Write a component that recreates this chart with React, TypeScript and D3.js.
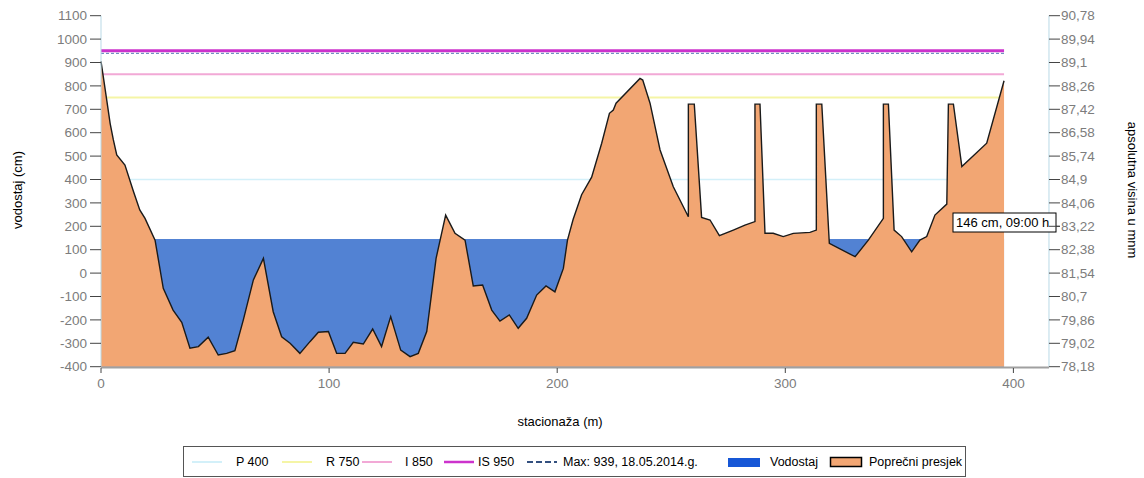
import React from 'react';
import * as d3 from 'd3';

// ---- data ----
const stations = [0, 1, 2.5, 4, 5.4, 6.9, 10.5, 14.2, 17, 19.3, 23.7, 27.3, 31.6, 35.4, 39, 42.7, 47, 51.4, 55.1, 58.7, 62.4, 66.8, 71.2, 75.5, 79.2, 82.9, 87.2, 91.6, 95.3, 99.7, 103.3, 107, 110.6, 115, 119.1, 123, 127, 131.4, 135.5, 139.1, 142.8, 146.9, 151.1, 155.2, 159.6, 163.2, 167.3, 171.3, 174.9, 179, 182.9, 186.6, 191, 195.1, 199, 202.7, 204.5, 207, 210.7, 215.1, 219.5, 222.9, 224.6, 225.8, 236.3, 237.5, 240.7, 245.1, 250.9, 257.5, 257.5, 260.1, 263.3, 267, 271.1, 277.2, 282.3, 286.7, 286.7, 288.9, 291.1, 294.7, 299.1, 303.5, 310.8, 313.6, 313.6, 316, 319.3, 330.6, 336.4, 343, 343, 345.2, 347.7, 351, 355.4, 359, 362, 365.6, 370.8, 371.5, 373.7, 377.4, 388.3, 395.9];
const elevations = [905, 840, 740, 640, 570, 505, 462, 350, 270, 234, 141, -65, -158, -210, -321, -314, -274, -350, -343, -332, -200, -29, 63, -165, -272, -300, -343, -293, -253, -250, -343, -343, -296, -303, -239, -314, -186, -329, -357, -343, -250, 63, 248, 170, 141, -55, -51, -158, -205, -179, -236, -193, -94, -55, -80, 20, 141, 230, 335, 410, 555, 683, 697, 726, 832, 825, 726, 526, 369, 241, 722, 722, 238, 227, 160, 184, 205, 220, 722, 722, 170, 170, 156, 170, 174, 184, 722, 722, 127, 70, 141, 234, 722, 722, 184, 156, 91, 141, 156, 248, 295, 722, 722, 455, 555, 822];

const waterLevel = 146;
const waterLabel = '146 cm, 09:00 h';

const thresholdNames = ['P 400', 'R 750', 'I 850', 'IS 950'];
const thresholdValues = [400, 750, 850, 950];
const thresholdColors = ['#d3f0f9', '#f5f5a6', '#f2a9d6', '#cc33cc'];
const thresholdWidths = [1.5, 2, 2, 3];

const maxValue = 939;
const maxLabel = 'Max: 939, 18.05.2014.g.';

const leftTicks = [-400, -300, -200, -100, 0, 100, 200, 300, 400, 500, 600, 700, 800, 900, 1000, 1100];
const rightTickLabels = ['78,18', '79,02', '79,86', '80,7', '81,54', '82,38', '83,22', '84,06', '84,9', '85,74', '86,58', '87,42', '88,26', '89,1', '89,94', '90,78'];
const xTicks = [0, 100, 200, 300, 400];

const ORANGE = '#f2a673';
const WATER = '#5282d3';
const WATER_LEG = '#1657d6';

export default function App() {
  const x = d3.scaleLinear().domain([0, 400]).range([101, 1013.4]);
  const y = d3.scaleLinear().domain([-400, 1100]).range([366.7, 15.7]);
  const xEnd = x(415.6);
  const sEnd = stations[stations.length - 1];
  const pts = stations.map((s, i) => [s, elevations[i]] as [number, number]);

  const profileArea = d3.area<[number, number]>()
    .x(d => x(d[0])).y0(y(-400)).y1(d => y(d[1]))(pts) || '';
  const profileLine = d3.line<[number, number]>()
    .x(d => x(d[0])).y(d => y(d[1]))(pts) || '';
  const waterArea = d3.area<number>()
    .x(d => x(d)).y0(y(-400)).y1(y(waterLevel))([0, sEnd]) || '';

  const tickFont = { fontFamily: '"Liberation Sans", Arial, sans-serif', fontSize: 13.5, fill: '#7c7c7c' };
  const labFont = { fontFamily: '"Liberation Sans", Arial, sans-serif', fontSize: 13, fill: '#000' };
  const legFont = { fontFamily: '"Liberation Sans", Arial, sans-serif', fontSize: 12.5, fill: '#000' };

  const legY = 462;
  const legLineX = [192, 282, 362, 444];
  const legTextX = [236, 326, 405, 478];

  const annX = 953, annY = 213;

  return (
    <svg width={1144} height={478} style={{ position: 'absolute', left: 0, top: 0, background: '#fff' }}>
      <defs>
        <clipPath id="annClip"><rect x={annX} y={annY} width={103} height={19} /></clipPath>
      </defs>
      <rect x={0} y={0} width={1144} height={478} fill="#fff" />
      {/* threshold lines (behind profile) */}
      {thresholdValues.map((v, i) => (
        <line key={i} x1={x(0)} x2={x(sEnd)} y1={y(v)} y2={y(v)} stroke={thresholdColors[i]} strokeWidth={thresholdWidths[i]} />
      ))}
      <line x1={x(0)} x2={x(sEnd)} y1={y(maxValue)} y2={y(maxValue)} stroke="#5a7fb8" strokeWidth={1} strokeDasharray="3,2" />
      {/* water */}
      <path d={waterArea} fill={WATER} />
      {/* profile */}
      <path d={profileArea} fill={ORANGE} />
      <path d={profileLine} fill="none" stroke="#1a1a1a" strokeWidth={1.4} strokeLinejoin="miter" />
      {/* left axis */}
      <line x1={101} x2={101} y1={y(1100)} y2={y(-400)} stroke="#b9d9e6" strokeWidth={1} />
      {leftTicks.map(t => (
        <g key={t}>
          <line x1={90} x2={101} y1={y(t)} y2={y(t)} stroke="#444" strokeWidth={1} />
          <text x={87} y={y(t)} dy="0.35em" textAnchor="end" {...tickFont}>{t}</text>
        </g>
      ))}
      {/* right axis */}
      <line x1={xEnd} x2={xEnd} y1={y(1100)} y2={y(-400)} stroke="#b9d9e6" strokeWidth={1} />
      {leftTicks.map((t, i) => (
        <g key={'r' + t}>
          <line x1={xEnd} x2={xEnd + 11} y1={y(t)} y2={y(t)} stroke="#444" strokeWidth={1} />
          <text x={xEnd + 12} y={y(t)} dy="0.35em" textAnchor="start" {...tickFont}>{rightTickLabels[i]}</text>
        </g>
      ))}
      {/* bottom axis */}
      <line x1={101} x2={xEnd} y1={367.5} y2={367.5} stroke="#a0a0a0" strokeWidth={2} />
      {xTicks.map(t => (
        <g key={'x' + t}>
          <line x1={x(t)} x2={x(t)} y1={368} y2={373} stroke="#444" strokeWidth={1} />
          <text x={x(t)} y={388} textAnchor="middle" {...tickFont}>{t}</text>
        </g>
      ))}
      {/* annotation */}
      <rect x={annX} y={annY} width={103} height={19} fill="#fff" stroke="#000" strokeWidth={1} />
      <text x={annX + 3} y={annY + 14} clipPath="url(#annClip)" {...labFont}>{waterLabel}</text>
      <line x1={xEnd} x2={xEnd + 11} y1={y(200)} y2={y(200)} stroke="#444" strokeWidth={1} />
      {/* axis titles */}
      <text transform={`translate(22,${190}) rotate(-90)`} textAnchor="middle" {...labFont}>vodostaj (cm)</text>
      <text transform={`translate(1128,${190}) rotate(90)`} textAnchor="middle" {...labFont}>apsolutna visina u mnm</text>
      <text x={560} y={426} textAnchor="middle" {...labFont}>stacionaža (m)</text>
      {/* legend */}
      <rect x={183.5} y={446.5} width={782} height={30} fill="#fff" stroke="#555" strokeWidth={1} />
      {thresholdNames.map((n, i) => (
        <g key={'l' + n}>
          <line x1={legLineX[i]} x2={legLineX[i] + 30} y1={legY} y2={legY} stroke={thresholdColors[i]} strokeWidth={i === 3 ? 2.5 : 2} />
          <text x={legTextX[i]} y={legY} dy="0.35em" {...legFont}>{n}</text>
        </g>
      ))}
      <line x1={527} x2={557} y1={legY} y2={legY} stroke="#33507f" strokeWidth={2} strokeDasharray="6,3" />
      <text x={563} y={legY} dy="0.35em" {...legFont}>{maxLabel}</text>
      <rect x={728} y={458} width={32} height={9} fill={WATER_LEG} />
      <text x={770} y={legY} dy="0.35em" {...legFont}>Vodostaj</text>
      <rect x={830.5} y={457.5} width={31} height={9} fill={ORANGE} stroke="#000" strokeWidth={1.5} />
      <text x={869} y={legY} dy="0.35em" {...legFont}>Poprečni presjek</text>
    </svg>
  );
}
